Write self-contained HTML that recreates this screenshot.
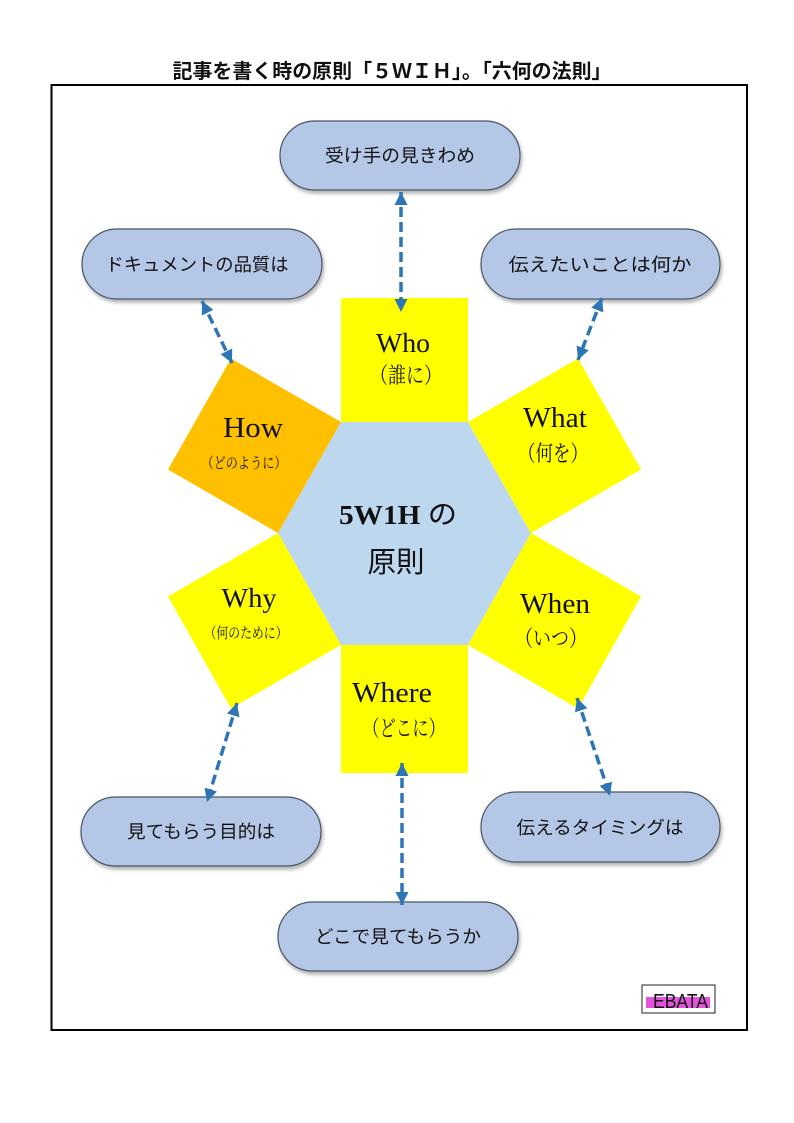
<!DOCTYPE html>
<html><head><meta charset="utf-8">
<style>
html,body{margin:0;padding:0;background:#fff;}
svg{display:block;}
.jp{font-family:"Liberation Sans","Noto Sans CJK JP",sans-serif;}
.se{font-family:"Liberation Serif","Noto Serif CJK SC",serif;}
</style></head>
<body>
<svg width="794" height="1123" viewBox="0 0 794 1123" xmlns="http://www.w3.org/2000/svg">
<defs>
<marker id="ah" viewBox="0 0 10 10" refX="10" refY="5" markerWidth="13" markerHeight="13" markerUnits="userSpaceOnUse" orient="auto-start-reverse">
<path d="M0,0 L10,5 L0,10 z" fill="#2E75B6"/>
</marker>
<filter id="sh" x="-10%" y="-20%" width="130%" height="150%">
<feDropShadow dx="1.5" dy="3" stdDeviation="1.8" flood-color="#000" flood-opacity="0.3"/>
</filter>
</defs>

<!-- title -->
<text x="392" y="78" class="jp" font-size="20" font-weight="bold" text-anchor="middle" textLength="439" lengthAdjust="spacingAndGlyphs" fill="#111">記事を書く時の原則「５ＷＩＨ」。「六何の法則」</text>

<!-- frame -->
<rect x="51.5" y="85" width="695.5" height="945" fill="none" stroke="#000" stroke-width="2"/>

<!-- hexagon -->
<polygon points="341,422 468,422 531,533 468,645 341,645 278,533" fill="#BDD7EE"/>

<!-- squares -->
<polygon points="341,298 468,298 468,422 341,422" fill="#FFFF00"/>
<polygon points="341,645 468,645 468,773 341,773" fill="#FFFF00"/>
<polygon points="468,422 578,358.5 641,469.5 531,533" fill="#FFFF00"/>
<polygon points="531,533 641,596.5 578,708.5 468,645" fill="#FFFF00"/>
<polygon points="341,645 231,708.5 168,596.5 278,533" fill="#FFFF00"/>
<polygon points="278,533 168,469.5 231,358.5 341,422" fill="#FFC000"/>

<!-- pills -->
<g fill="#B4C7E7" stroke="#4a5563" stroke-width="1.2" filter="url(#sh)">
<rect x="280" y="121" width="240" height="69" rx="34.5"/>
<rect x="82" y="229" width="240" height="70" rx="35"/>
<rect x="481" y="229" width="239" height="70" rx="35"/>
<rect x="81" y="797" width="240" height="69" rx="34.5"/>
<rect x="481" y="792" width="239" height="70" rx="35"/>
<rect x="278" y="902" width="240" height="69" rx="34.5"/>
</g>
<g class="jp" font-size="18" fill="#111" text-anchor="middle">
<text x="400" y="162" textLength="150" lengthAdjust="spacingAndGlyphs">受け手の見きわめ</text>
<text x="197" y="271" textLength="183" lengthAdjust="spacingAndGlyphs">ドキュメントの品質は</text>
<text x="600" y="271" textLength="183" lengthAdjust="spacingAndGlyphs">伝えたいことは何か</text>
<text x="201" y="838" textLength="148" lengthAdjust="spacingAndGlyphs">見てもらう目的は</text>
<text x="600" y="834" textLength="167" lengthAdjust="spacingAndGlyphs">伝えるタイミングは</text>
<text x="398" y="943" textLength="166" lengthAdjust="spacingAndGlyphs">どこで見てもらうか</text>
</g>

<!-- square labels -->
<g class="se" fill="#111" text-anchor="middle">
<text x="403" y="352" font-size="27" textLength="54" lengthAdjust="spacingAndGlyphs">Who</text>
<text x="406" y="383" font-size="22" textLength="72" lengthAdjust="spacingAndGlyphs">（誰に）</text>
<text x="253" y="437" font-size="29" textLength="60" lengthAdjust="spacingAndGlyphs">How</text>
<text x="244" y="468" font-size="15" textLength="85" lengthAdjust="spacingAndGlyphs">（どのように）</text>
<text x="555" y="427" font-size="28" textLength="64" lengthAdjust="spacingAndGlyphs">What</text>
<text x="553" y="461" font-size="22" textLength="70" lengthAdjust="spacingAndGlyphs">（何を）</text>
<text x="249" y="607" font-size="27" textLength="55" lengthAdjust="spacingAndGlyphs">Why</text>
<text x="246" y="638" font-size="15" textLength="83" lengthAdjust="spacingAndGlyphs">（何のために）</text>
<text x="555" y="613" font-size="28" textLength="70" lengthAdjust="spacingAndGlyphs">When</text>
<text x="551" y="646" font-size="22" textLength="72" lengthAdjust="spacingAndGlyphs">（いつ）</text>
<text x="392" y="702" font-size="28" textLength="80" lengthAdjust="spacingAndGlyphs">Where</text>
<text x="404" y="736" font-size="22" textLength="82" lengthAdjust="spacingAndGlyphs">（どこに）</text>
</g>

<!-- center text -->
<text x="398" y="524" font-family="'Liberation Serif','Noto Sans CJK JP',serif" font-size="27" font-weight="bold" fill="#111" text-anchor="middle" textLength="118" lengthAdjust="spacingAndGlyphs">5W1H <tspan font-weight="normal" font-family="'Liberation Sans','Noto Sans CJK JP',sans-serif">の</tspan></text>
<text x="396" y="572" class="jp" font-size="29" fill="#111" text-anchor="middle" textLength="57" lengthAdjust="spacingAndGlyphs">原則</text>

<!-- arrows -->
<g stroke="#2E75B6" stroke-width="3.5" stroke-dasharray="10,5" fill="none" marker-start="url(#ah)" marker-end="url(#ah)">
<line x1="401" y1="192" x2="401" y2="312"/>
<line x1="202" y1="301" x2="232" y2="363"/>
<line x1="602" y1="298" x2="578" y2="360"/>
<line x1="237" y1="703" x2="207" y2="802"/>
<line x1="577" y1="698" x2="610" y2="796"/>
<line x1="402" y1="763" x2="402" y2="905"/>
</g>

<!-- EBATA logo -->
<rect x="642" y="985" width="73" height="28" fill="#fff" stroke="#222" stroke-width="1"/>
<rect x="646" y="997" width="64" height="11" fill="#E040D8" opacity="0.9"/>
<text x="680.5" y="1008" font-family="'Liberation Sans',sans-serif" font-size="20" fill="#111" text-anchor="middle" textLength="55" lengthAdjust="spacingAndGlyphs">EBATA</text>
</svg>
</body></html>
